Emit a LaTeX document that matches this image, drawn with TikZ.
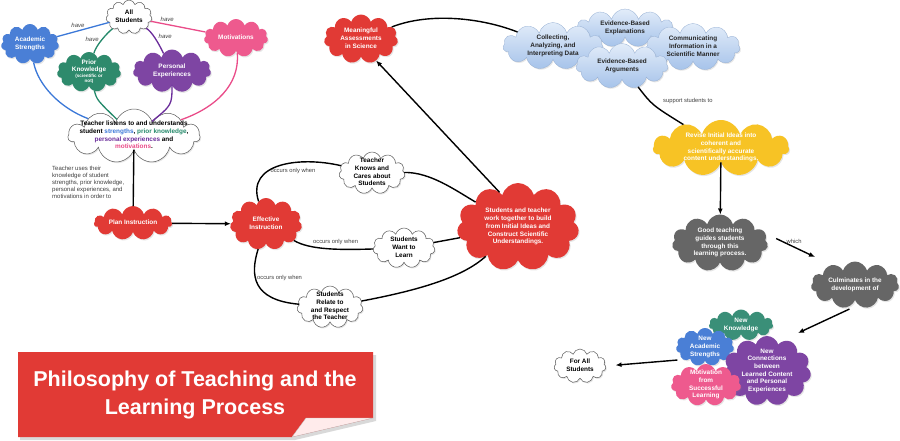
\documentclass[tikz,border=0pt]{standalone}
\usepackage{fontspec}
\setmainfont{Liberation Sans}
\usetikzlibrary{shapes.symbols,arrows.meta,shadows}
\definecolor{cred}{HTML}{E13A35}
\definecolor{cblue}{HTML}{4A7FD6}
\definecolor{cpink}{HTML}{EE5A8E}
\definecolor{cgreen}{HTML}{2E8A6C}
\definecolor{cteal}{HTML}{3A8F78}
\definecolor{cpurple}{HTML}{7E45A3}
\definecolor{cyellow}{HTML}{F7C325}
\definecolor{cgray}{HTML}{666666}
\definecolor{lblue}{HTML}{3B78D8}
\definecolor{lgreen}{HTML}{24896A}
\definecolor{lpurple}{HTML}{6A2C9A}
\definecolor{lpink}{HTML}{EA4C89}
\definecolor{sktop}{HTML}{E2ECF9}
\definecolor{skbot}{HTML}{A6C3EA}
\newcommand\ctx[1]{\raisebox{-2.7pt}{\smash{\makebox[0pt]{\begin{tabular}{@{}c@{}}#1\end{tabular}}}}}
\newcommand\smallfnt{\fontsize{4.6}{5.2}\selectfont}
\tikzset{
  base/.style={cloud, cloud puffs=11, cloud ignores aspect, inner sep=0pt, outer sep=0pt,
    font=\bfseries\fontsize{6.4}{7.7}\selectfont,
    drop shadow={opacity=0.2, shadow xshift=1pt, shadow yshift=-1.2pt}},
  wcloud/.style={base, draw=black!65, line width=0.5pt, fill=white, text=black},
  ccloud/.style={base, fill=#1, text=white},
  bcloud/.style={base, top color=sktop, bottom color=skbot, draw=skbot!90!black, line width=0.3pt, text=black!85},
  lbl/.style={font=\fontsize{5.8}{6.8}\selectfont, text=black!75, inner sep=1pt},
  hv/.style={font=\itshape\fontsize{6}{6.8}\selectfont, text=black!75, inner sep=1pt},
  conn/.style={line width=1.4pt, black},
  arr/.style={conn, -{Latex[length=6pt,width=5pt]}},
  cl/.style={line width=1.3pt}
}
\begin{document}
\begin{tikzpicture}[x=1pt,y=-1pt]
\useasboundingbox (0,0) rectangle (900,440);
\fill[white] (0,0) rectangle (900,440);

% ---- top-left cluster
\node[wcloud, minimum width=46, minimum height=34] (allst) at (129,17) {\ctx{All\\Students}};
\node[ccloud=cblue, minimum width=58, minimum height=40] (acad) at (30,44) {\ctx{Academic\\Strengths}};
\node[ccloud=cpink, minimum width=64, minimum height=38] (motiv) at (236,38) {\ctx{Motivations}};
\node[ccloud=cgreen, minimum width=64, minimum height=40] (prior) at (89,72) {\ctx{Prior\\Knowledge\\[-2pt]\smallfnt (scientific or\\[-2.5pt]\smallfnt not)}};
\node[ccloud=cpurple, minimum width=78, minimum height=43] (persexp) at (172,71) {\ctx{Personal\\Experiences}};
\node[wcloud, minimum width=132, minimum height=54] (listen) at (134,136)
 {\ctx{Teacher listens to and understands\\student \textcolor{lblue}{strengths}, \textcolor{lgreen}{prior knowledge},\\\textcolor{lpurple}{personal experiences} and\\\textcolor{lpink}{motivations}.}};

\draw[cl, lblue] (allst) -- node[hv, pos=0.6, above=2pt] {have} (acad);
\draw[cl, lgreen] (allst) .. controls (108,32) and (96,45) .. node[hv, pos=0.5, left=2pt] {have} (prior);
\draw[cl, lpurple] (allst) .. controls (152,32) and (158,42) .. node[hv, pos=0.45, right=3pt] {have} (persexp);
\draw[cl, lpink] (allst) -- node[hv, pos=0.3, above=1pt] {have} (motiv);
\draw[cl, lblue] (acad) .. controls (38,85) and (60,108) .. (listen);
\draw[cl, lgreen] (prior) .. controls (97,100) .. (listen);
\draw[cl, lpurple] (persexp) .. controls (172,105) .. (listen);
\draw[cl, lpink] (motiv) .. controls (240,85) and (215,108) .. (listen);

\node[lbl, anchor=north west, align=left, font=\fontsize{6}{7.1}\selectfont] (uses) at (51,165) {Teacher uses their\\knowledge of student\\strengths, prior knowledge,\\personal experiences, and\\motivations in order to};

% ---- middle
\node[ccloud=cred, minimum width=78, minimum height=34] (plan) at (133,223) {\ctx{Plan Instruction}};
\node[ccloud=cred, minimum width=72, minimum height=52] (effect) at (266,224) {\ctx{Effective\\Instruction}};
\node[wcloud, minimum width=66, minimum height=42] (knows) at (372,173) {\ctx{Teacher\\Knows and\\Cares about\\Students}};
\node[wcloud, minimum width=62, minimum height=40] (want) at (404,248) {\ctx{Students\\Want to\\Learn}};
\node[wcloud, minimum width=66, minimum height=42] (relate) at (330,307) {\ctx{Students\\Relate to\\and Respect\\the Teacher}};
\node[ccloud=cred, minimum width=122, minimum height=88] (together) at (518,227) {\ctx{Students and teacher\\work together to build\\from Initial Ideas and\\Construct Scientific\\Understandings.}};
\node[ccloud=cred, minimum width=74, minimum height=49] (assess) at (361,39) {\ctx{Meaningful\\Assessments\\in Science}};

\draw[conn] (listen) -- (plan);
\draw[arr] (plan) -- (effect);
\draw[conn] (effect) .. controls (246,163) and (300,156) .. node[lbl, pos=0.62, below=4pt] {occurs only when} (knows);
\draw[conn] (knows) .. controls (430,172) and (455,190) .. (together);
\draw[conn] (effect) .. controls (310,250) and (340,250) .. node[lbl, pos=0.6, above=3pt] {occurs only when} (want);
\draw[conn] (want) -- (together);
\draw[conn] (effect) .. controls (250,275) and (252,300) .. node[lbl, pos=0.4, right=0pt] {occurs only when} (relate);
\draw[conn] (relate) .. controls (420,290) and (463,277) .. (together);
\draw[arr] (together.118) -- (assess.-55);

% ---- science practices
\node[bcloud, minimum width=96, minimum height=38] (explain) at (625,28) {\ctx{Evidence-Based\\Explanations}};
\node[bcloud, minimum width=100, minimum height=47] (collect) at (553,46) {\ctx{Collecting,\\Analyzing, and\\Interpreting Data}};
\node[bcloud, minimum width=94, minimum height=47] (comm) at (693,47) {\ctx{Communicating\\Information in a\\Scientific Manner}};
\node[bcloud, minimum width=92, minimum height=45] (argue) at (622,66) {\ctx{Evidence-Based\\Arguments}};
\draw[conn] (assess) .. controls (430,12) and (482,18) .. (collect);

% ---- right column
\node[ccloud=cyellow, minimum width=136, minimum height=56] (revise) at (721,148) {\ctx{Revise Initial Ideas into\\coherent and\\scientifically accurate\\content understandings.}};
\node[ccloud=cgray, minimum width=96, minimum height=57] (good) at (720,243) {\ctx{Good teaching\\guides students\\through this\\learning process.}};
\node[ccloud=cgray, minimum width=88, minimum height=47] (culm) at (855,285) {\ctx{Culminates in the\\development of}};
\coordinate (wend) at (815,257);
\coordinate (cend) at (798,333);

\draw[conn] (argue) .. controls (652,105) .. node[lbl, pos=0.35, right=12pt] {support students to} (revise);
\draw[arr] (revise) -- (good);
\draw[arr, shorten <=12pt] (good.12) -- node[lbl, pos=0.58, above=2pt] {which} (wend);
\draw[arr, shorten <=10pt] (culm.-80) -- (cend);

% ---- outcomes
\node[ccloud=cteal, minimum width=64, minimum height=31] (newk) at (741,325) {\ctx{New\\Knowledge}};
\node[ccloud=cblue, minimum width=58, minimum height=38] (newacad) at (705,347) {\ctx{New\\Academic\\Strengths}};
\node[ccloud=cpurple, minimum width=88, minimum height=70] (newconn) at (767,371) {\ctx{New\\Connections\\between\\Learned Content\\and Personal\\Experiences}};
\node[ccloud=cpink, minimum width=70, minimum height=42] (newmot) at (706,385) {\ctx{Motivation\\from\\Successful\\Learning}};
\node[wcloud, minimum width=52, minimum height=34] (forall) at (580,366) {\ctx{For All\\Students}};

\draw[arr, shorten <=6pt, shorten >=10pt] (newacad.210) -- (forall.east);

% ---- title banner
\fill[black, opacity=0.15] (20,355) -- (376,355) -- (376,421) -- (295,440) -- (20,440) -- cycle;
\fill[cred] (18,352) -- (373,352) -- (373,418) -- (292,437) -- (18,437) -- cycle;
\filldraw[draw=black!25, line width=0.3pt, fill=red!8] (292,437) -- (306,418) -- (373,418) -- cycle;
\node[text=white, font=\bfseries\fontsize{21.5}{27.5}\selectfont, align=center] (title) at (195,395) {Philosophy of Teaching and the\\Learning Process};
\end{tikzpicture}
\end{document}
